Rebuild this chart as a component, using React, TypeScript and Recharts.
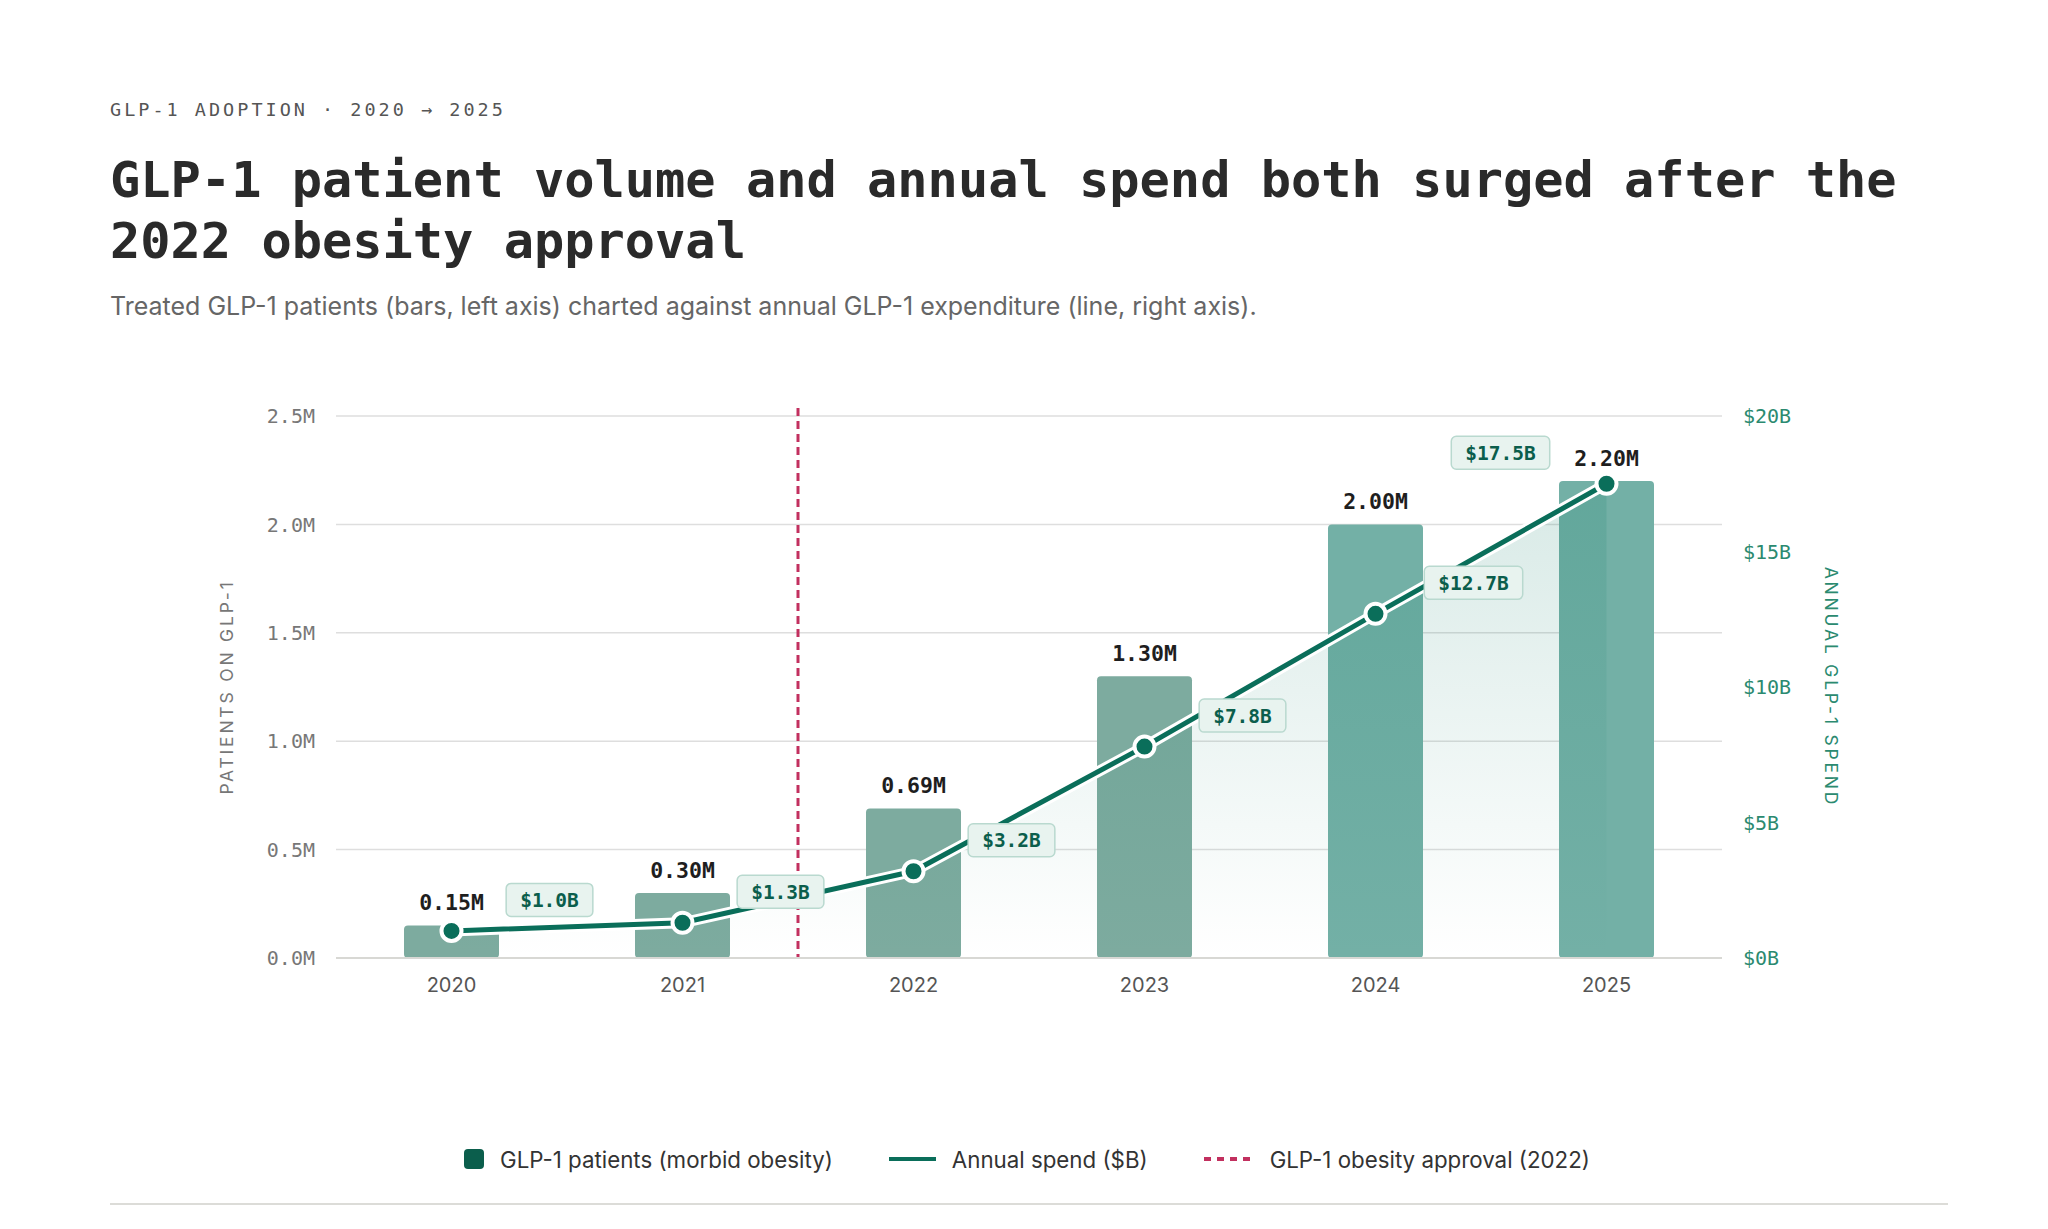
import React from "react";
import {
  Area,
  Bar,
  CartesianGrid,
  Cell,
  ComposedChart,
  LabelList,
  Line,
  ReferenceLine,
  XAxis,
  YAxis,
} from "recharts";

const years = ["2020", "2021", "2022", "2023", "2024", "2025"];
const patientsM = [0.15, 0.3, 0.69, 1.3, 2.0, 2.2];
const spendB = [1.0, 1.3, 3.2, 7.8, 12.7, 17.5];
const patientTicks = [0, 0.5, 1, 1.5, 2, 2.5];
const spendTicks = [0, 5, 10, 15, 20];
// approval marker sits between the 2021 and 2022 slots (index scale)
const approvalPos = 1.5;

const data = years.map((year, i) => ({
  idx: i,
  year,
  patients: patientsM[i],
  spend: spendB[i],
}));
const yearTicks = data.map((d) => d.idx);

const MONO = "'DejaVu Sans Mono', monospace";
const SANS = "Inter, 'Noto Sans', sans-serif";
const TEAL = "#0a6e5a";
const TEAL_TEXT = "#2b8a70";
const CRIMSON = "#c2305f";

const barFill = (i: number) => (i >= 4 ? "#73b0a6" : "#7dab9f");

function BarValue(props: any) {
  const { x, y, width, value } = props;
  return (
    <text
      x={x + width / 2}
      y={y - 15}
      textAnchor="middle"
      fontFamily={MONO}
      fontSize={21.5}
      fontWeight={600}
      fill="#1e1e1e"
    >
      {`${Number(value).toFixed(2)}M`}
    </text>
  );
}

function SpendTag(props: any) {
  const { x, y, value, index } = props;
  const text = `$${Number(value).toFixed(1)}B`;
  const w = text.length * 11.74 + 28;
  const h = 33;
  const last = index === spendB.length - 1;
  const cx = last ? x - 106 : x + 98;
  const cy = y - 31;
  return (
    <g>
      <rect
        x={cx - w / 2}
        y={cy - h / 2}
        width={w}
        height={h}
        rx={5}
        fill="#e8f3ef"
        stroke="#b9d9cf"
        strokeWidth={1.5}
      />
      <text
        x={cx}
        y={cy + 7}
        textAnchor="middle"
        fontFamily={MONO}
        fontSize={19.5}
        fontWeight={600}
        fill="#0b5e4c"
      >
        {text}
      </text>
    </g>
  );
}

function ApprovalLine(props: any) {
  const { x1, y1, x2, y2 } = props;
  return (
    <line
      x1={x1}
      x2={x2}
      y1={Math.min(y1, y2) - 8}
      y2={Math.max(y1, y2)}
      stroke={CRIMSON}
      strokeWidth={3}
      strokeDasharray="8 5"
    />
  );
}

const axisTitleStyle = {
  fontFamily: SANS,
  fontSize: 17.5,
  letterSpacing: 2.8,
};

function LeftTitle(props: any) {
  const vb = props.viewBox || { x: 276, y: 416, width: 60, height: 542 };
  const cx = vb.x - 50;
  const cy = vb.y + vb.height / 2;
  return (
    <text
      x={cx}
      y={cy}
      transform={`rotate(-90 ${cx} ${cy})`}
      textAnchor="middle"
      dominantBaseline="central"
      fill="#777"
      style={axisTitleStyle}
    >
      PATIENTS ON GLP-1
    </text>
  );
}

function RightTitle(props: any) {
  const vb = props.viewBox || { x: 1722, y: 416, width: 60, height: 542 };
  const cx = vb.x + 109;
  const cy = vb.y + vb.height / 2;
  return (
    <text
      x={cx}
      y={cy}
      transform={`rotate(90 ${cx} ${cy})`}
      textAnchor="middle"
      dominantBaseline="central"
      fill={TEAL_TEXT}
      style={axisTitleStyle}
    >
      ANNUAL GLP-1 SPEND
    </text>
  );
}

function LegendRow() {
  const item = { display: "flex", alignItems: "center", gap: 16 };
  return (
    <div
      style={{
        position: "absolute",
        left: 334,
        width: 1386,
        top: 1143,
        height: 32,
        display: "flex",
        justifyContent: "center",
        alignItems: "center",
        gap: 56,
        fontFamily: SANS,
        fontSize: 22.3,
        color: "#333",
      }}
    >
      <div style={item}>
        <span style={{ width: 20, height: 20, borderRadius: 4, background: "#0b5e4c" }} />
        <span>GLP-1 patients (morbid obesity)</span>
      </div>
      <div style={item}>
        <span style={{ width: 47, height: 4, background: TEAL }} />
        <span>Annual spend ($B)</span>
      </div>
      <div style={item}>
        <svg width={50} height={6}>
          <line x1={0} x2={50} y1={3} y2={3} stroke={CRIMSON} strokeWidth={4} strokeDasharray="7 6" />
        </svg>
        <span>GLP-1 obesity approval (2022)</span>
      </div>
    </div>
  );
}

export default function App() {
  return (
    <div
      style={{
        position: "absolute",
        top: 0,
        left: 0,
        width: 2048,
        height: 1229,
        background: "#fff",
        overflow: "hidden",
      }}
    >
      <div
        style={{
          position: "absolute",
          left: 110,
          top: 98,
          fontFamily: MONO,
          fontSize: 18.5,
          letterSpacing: 3,
          color: "#555",
          lineHeight: "24px",
        }}
      >
        GLP-1 ADOPTION · 2020 → 2025
      </div>
      <div
        style={{
          position: "absolute",
          left: 110,
          top: 149,
          width: 1920,
          fontFamily: MONO,
          fontWeight: 700,
          fontSize: 50.3,
          lineHeight: "61px",
          color: "#2a2a2a",
          whiteSpace: "nowrap",
        }}
      >
        GLP-1 patient volume and annual spend both surged after the
        <br />
        2022 obesity approval
      </div>
      <div
        style={{
          position: "absolute",
          left: 110,
          top: 290,
          fontFamily: SANS,
          fontSize: 25,
          lineHeight: "32px",
          color: "#666",
          whiteSpace: "nowrap",
        }}
      >
        Treated GLP-1 patients (bars, left axis) charted against annual GLP-1 expenditure (line, right axis).
      </div>

      <div style={{ position: "absolute", left: 0, top: 380 }}>
        <ComposedChart
          width={2048}
          height={680}
          data={data}
          margin={{ top: 36, right: 266, bottom: 62, left: 276 }}
        >
          <defs>
            <linearGradient id="spendFill" x1="0" y1="0" x2="0" y2="1">
              <stop offset="0%" stopColor="#0b7a64" stopOpacity={0.16} />
              <stop offset="100%" stopColor="#0b7a64" stopOpacity={0} />
            </linearGradient>
          </defs>
          <CartesianGrid
            vertical={false}
            yAxisId="left"
            stroke="#dedede"
            strokeWidth={1.5}
          />
          <XAxis
            dataKey="idx"
            type="number"
            domain={[-0.5, years.length - 0.5]}
            ticks={yearTicks}
            tickFormatter={(i: number) => years[i] ?? ""}
            height={40}
            tickSize={0}
            tickMargin={20}
            axisLine={{ stroke: "#d8d8d4", strokeWidth: 2 }}
            tick={{ fill: "#555", fontFamily: SANS, fontSize: 20 }}
          />
          <YAxis
            yAxisId="left"
            orientation="left"
            width={60}
            domain={[0, 2.5]}
            ticks={patientTicks}
            tickSize={0}
            tickMargin={21}
            axisLine={false}
            tickFormatter={(v: number) => `${v.toFixed(1)}M`}
            tick={{ fill: "#777", fontFamily: MONO, fontSize: 20 }}
            label={{ content: (p: any) => <LeftTitle {...p} /> }}
          />
          <YAxis
            yAxisId="right"
            orientation="right"
            width={60}
            domain={[0, 20]}
            ticks={spendTicks}
            tickSize={0}
            tickMargin={21}
            axisLine={false}
            tickFormatter={(v: number) => `$${v}B`}
            tick={{ fill: TEAL_TEXT, fontFamily: MONO, fontSize: 20, textAnchor: "start" }}
            label={{ content: (p: any) => <RightTitle {...p} /> }}
          />
          <Bar
            yAxisId="left"
            dataKey="patients"
            barSize={95}
            radius={4}
            isAnimationActive={false}
          >
            {data.map((d, i) => (
              <Cell key={d.year} fill={barFill(i)} />
            ))}
            <LabelList dataKey="patients" content={(p: any) => <BarValue {...p} />} />
          </Bar>
          <Area
            yAxisId="right"
            dataKey="spend"
            type="linear"
            stroke="none"
            fill="url(#spendFill)"
            fillOpacity={1}
            zIndex={350}
            isAnimationActive={false}
          />
          <ReferenceLine
            yAxisId="left"
            x={approvalPos}
            shape={(p: any) => <ApprovalLine {...p} />}
          />
          <Line
            yAxisId="right"
            dataKey="spend"
            type="linear"
            stroke="#fff"
            strokeWidth={11}
            dot={false}
            activeDot={false}
            isAnimationActive={false}
          />
          <Line
            yAxisId="right"
            dataKey="spend"
            type="linear"
            stroke={TEAL}
            strokeWidth={5}
            dot={{ r: 10, fill: TEAL, stroke: "#fff", strokeWidth: 4 }}
            activeDot={false}
            isAnimationActive={false}
          >
            <LabelList dataKey="spend" content={(p: any) => <SpendTag {...p} />} />
          </Line>
        </ComposedChart>
      </div>

      <LegendRow />

      <div
        style={{
          position: "absolute",
          left: 110,
          top: 1203,
          width: 1838,
          height: 2,
          background: "#dcdcd8",
        }}
      />
    </div>
  );
}
